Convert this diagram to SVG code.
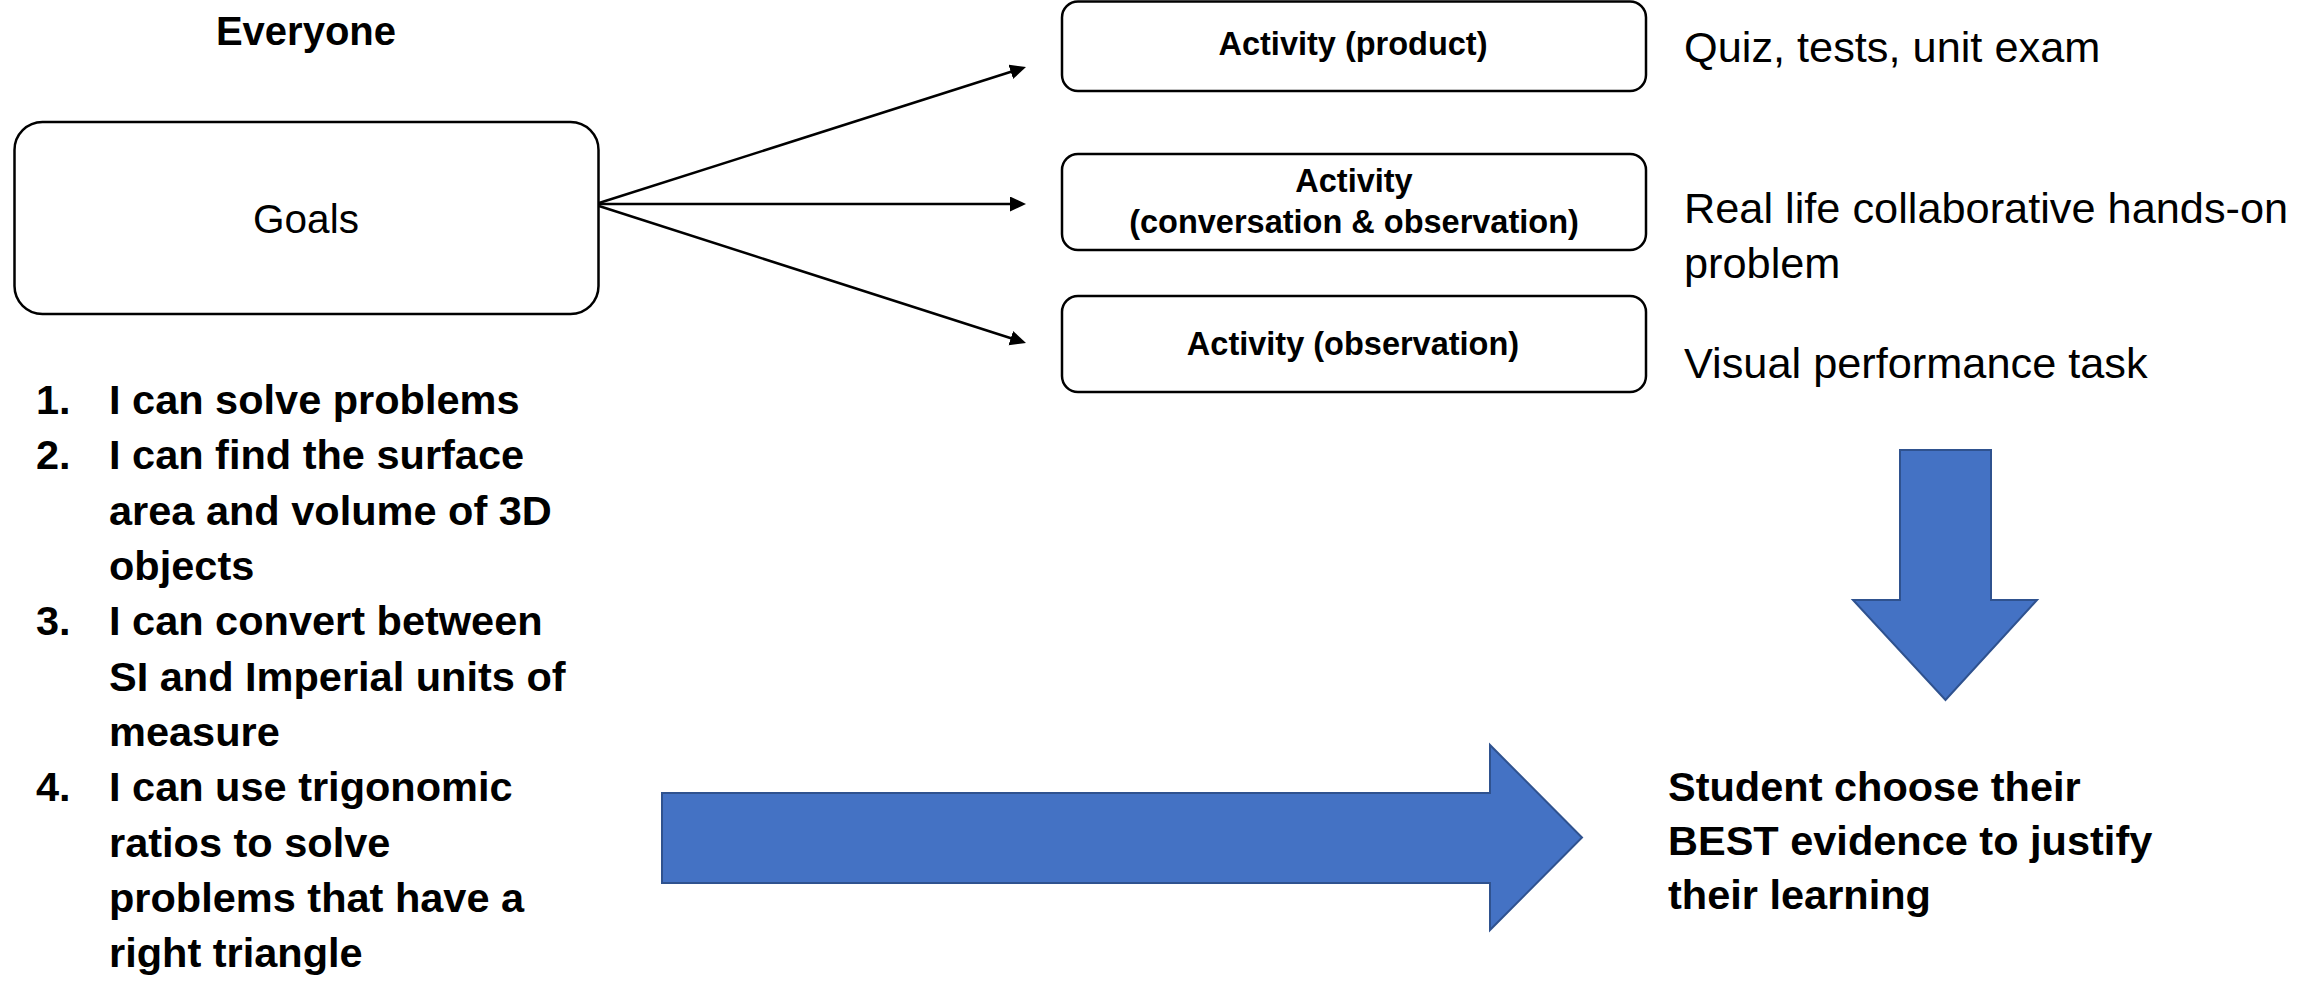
<svg xmlns="http://www.w3.org/2000/svg" width="2323" height="994" viewBox="0 0 2323 994">
  <style>
    text { font-family: "Liberation Sans", Arial, sans-serif; fill: #000; }
    .title { font-size: 40px; font-weight: bold; }
    .goal { font-size: 40.5px; }
    .act { font-size: 32.5px; font-weight: bold; }
    .note { font-size: 43.3px; }
    .list { font-size: 41.5px; font-weight: bold; }
    .box { fill: #fff; stroke: #000; stroke-width: 2.5; }
    .conn { stroke: #000; stroke-width: 2.5; fill: none; }
    .block { fill: #4472C4; stroke: #2F528F; stroke-width: 2; }
  </style>
  <defs>
    <marker id="head" markerUnits="userSpaceOnUse" markerWidth="18" markerHeight="16" refX="6" refY="7.5" orient="auto">
      <path d="M0,0 L16,7.5 L0,15 z" fill="#000"/>
    </marker>
  </defs>

  <rect width="2323" height="994" fill="#fff"/>

  <g id="everyone-label">
    <text class="title" x="306" y="45" text-anchor="middle">Everyone</text>
  </g>

  <g id="goals">
    <rect class="box" x="14.5" y="122" width="584" height="192" rx="28" ry="28"/>
    <text class="goal" x="306" y="233" text-anchor="middle">Goals</text>
  </g>

  <g id="connectors">
    <line class="conn" x1="599" y1="203" x2="1016.5" y2="70" marker-end="url(#head)"/>
    <line class="conn" x1="599" y1="204" x2="1016" y2="204" marker-end="url(#head)"/>
    <line class="conn" x1="599" y1="206" x2="1016.5" y2="340" marker-end="url(#head)"/>
  </g>

  <g id="activity-product">
    <rect class="box" x="1062" y="1.5" width="584" height="89.5" rx="16" ry="16"/>
    <text class="act" x="1353" y="55" text-anchor="middle">Activity (product)</text>
  </g>

  <g id="activity-conversation">
    <rect class="box" x="1062" y="154" width="584" height="96" rx="16" ry="16"/>
    <text class="act" x="1354" y="192" text-anchor="middle">Activity</text>
    <text class="act" x="1354" y="233" text-anchor="middle">(conversation &amp; observation)</text>
  </g>

  <g id="activity-observation">
    <rect class="box" x="1062" y="296" width="584" height="96" rx="16" ry="16"/>
    <text class="act" x="1353" y="355" text-anchor="middle">Activity (observation)</text>
  </g>

  <g id="note-product">
    <text class="note" x="1684" y="62">Quiz, tests, unit exam</text>
  </g>

  <g id="note-conversation">
    <text class="note" x="1684" y="223">Real life collaborative hands-on</text>
    <text class="note" x="1684" y="278">problem</text>
  </g>

  <g id="note-observation">
    <text class="note" x="1684" y="378">Visual performance task</text>
  </g>

  <g id="goal-list">
    <text class="list" x="36" y="414">1.</text>
    <text class="list" x="109" y="414">I can solve problems</text>
    <text class="list" x="36" y="469">2.</text>
    <text class="list" x="109" y="469">I can find the surface</text>
    <text class="list" x="109" y="525">area and volume of 3D</text>
    <text class="list" x="109" y="580">objects</text>
    <text class="list" x="36" y="635">3.</text>
    <text class="list" x="109" y="635">I can convert between</text>
    <text class="list" x="109" y="691">SI and Imperial units of</text>
    <text class="list" x="109" y="746">measure</text>
    <text class="list" x="36" y="801">4.</text>
    <text class="list" x="109" y="801">I can use trigonomic</text>
    <text class="list" x="109" y="857">ratios to solve</text>
    <text class="list" x="109" y="912">problems that have a</text>
    <text class="list" x="109" y="967">right triangle</text>
  </g>

  <g id="arrow-right">
    <polygon class="block" points="662,793 1490,793 1490,745 1582,837.5 1490,930 1490,883 662,883"/>
  </g>

  <g id="arrow-down">
    <polygon class="block" points="1900,450 1991,450 1991,600 2037,600 1945.5,700 1853,600 1900,600"/>
  </g>

  <g id="outcome">
    <text class="list" x="1668" y="801">Student choose their</text>
    <text class="list" x="1668" y="855">BEST evidence to justify</text>
    <text class="list" x="1668" y="909">their learning</text>
  </g>
</svg>
